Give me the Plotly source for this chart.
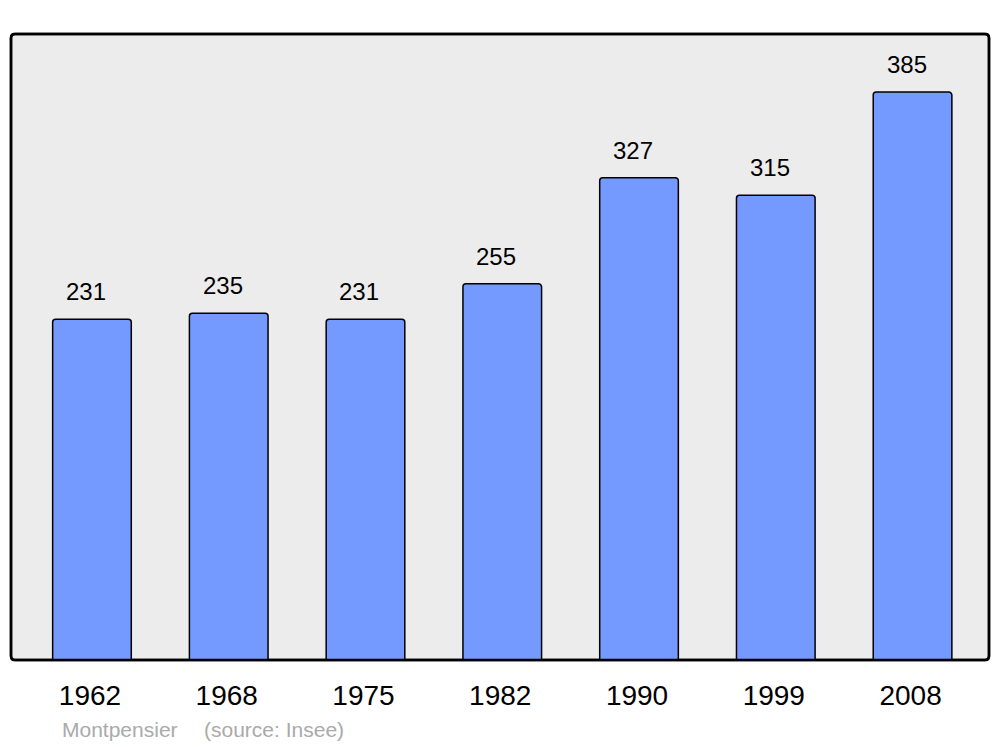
import plotly.graph_objects as go

years = ["1962", "1968", "1975", "1982", "1990", "1999", "2008"]
population = [231, 235, 231, 255, 327, 315, 385]
commune = "Montpensier"
source = "(source: Insee)"

# page body has an 8px margin, so the figure is drawn 8px in from the top-left
OFF = 8
W, H = 1000 - OFF, 747 - OFF
L, R, T, B = 11 - OFF, 11, 34 - OFF, 87

fig = go.Figure()
fig.add_trace(go.Bar(
    x=years, y=population, width=0.575,
    marker=dict(color="#7499ff", line=dict(color="#000000", width=1.5), cornerradius=3),
    hoverinfo="skip",
))

for i, v in enumerate(population):
    fig.add_annotation(x=i, y=v, text=str(v), showarrow=False, xshift=-6,
                       yanchor="bottom", yshift=12,
                       font=dict(family="Liberation Sans, Arial", size=24, color="#000000"))

pw = W - L - R
ph = H - T - B
rx, ry = 4 / pw, 4 / ph
path = (f"M {rx},0 L {1-rx},0 Q 1,0 1,{ry} L 1,{1-ry} Q 1,1 {1-rx},1 "
        f"L {rx},1 Q 0,1 0,{1-ry} L 0,{ry} Q 0,0 {rx},0 Z")
fig.add_shape(type="path", path=path, xref="paper", yref="paper",
              fillcolor="#ececec", line=dict(color="#000000", width=2.5), layer="below")
fig.add_shape(type="path", path=path, xref="paper", yref="paper",
              fillcolor="rgba(0,0,0,0)", line=dict(color="#000000", width=2.5), layer="above")

fig.add_annotation(x=(60 - 11) / pw, y=(660 - 729) / ph, xref="paper", yref="paper",
                   text=commune, showarrow=False, xanchor="left", yanchor="middle",
                   font=dict(family="Liberation Sans, Arial", size=21, color="#aaaaaa"))
fig.add_annotation(x=(202 - 11) / pw, y=(660 - 729) / ph, xref="paper", yref="paper",
                   text=source, showarrow=False, xanchor="left", yanchor="middle",
                   font=dict(family="Liberation Sans, Arial", size=21, color="#aaaaaa"))

fig.update_layout(
    width=W, height=H,
    margin=dict(l=L, r=R, t=T, b=B, pad=0),
    paper_bgcolor="#ffffff", plot_bgcolor="rgba(0,0,0,0)",
    showlegend=False,
    xaxis=dict(type="category", range=[-0.592, 6.559], showgrid=False, zeroline=False,
               showline=False, ticks="", ticklabelstandoff=16, ticklabelshift=-2,
               tickfont=dict(family="Liberation Sans, Arial", size=28, color="#000000")),
    yaxis=dict(range=[0, 424.4], showgrid=False, zeroline=False, showline=False,
               showticklabels=False, ticks=""),
)

fig.write_html("out.html")
